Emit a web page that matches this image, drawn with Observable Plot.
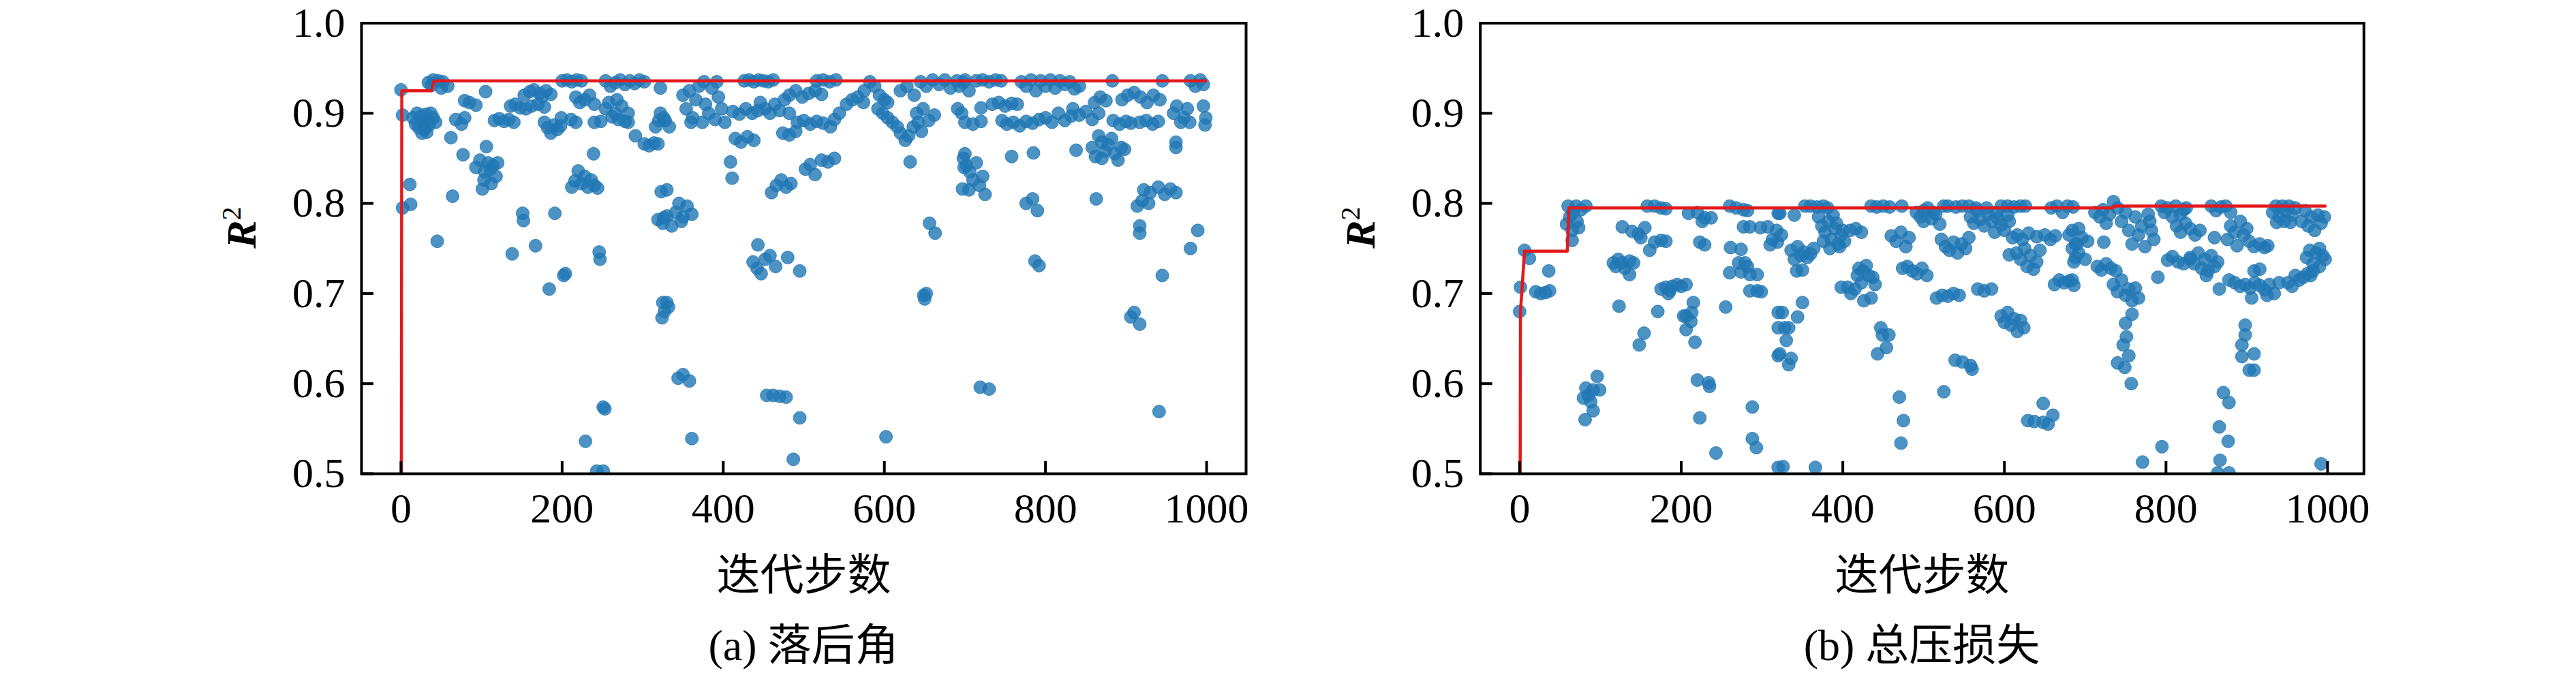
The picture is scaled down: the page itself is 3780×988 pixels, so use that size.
<!DOCTYPE html>
<html><head><meta charset="utf-8">
<script src="https://cdn.jsdelivr.net/npm/d3@7"></script>
<script src="https://cdn.jsdelivr.net/npm/@observablehq/plot@0.6"></script>
<style>
body{margin:0;background:#fff}
#wrap{position:relative;width:3780px;height:988px;background:#fff;overflow:hidden}
.panel{position:absolute;top:0}
.cap{position:absolute;top:900px;height:88px;line-height:96px;text-align:center;font-size:64px;font-family:"Liberation Serif","Noto Sans CJK SC",serif;color:#000;white-space:nowrap}
</style></head>
<body><div id="wrap"></div>
<script>
const xTicks = [0, 200, 400, 600, 800, 1000];
const yTicks = [0.5, 0.6, 0.7, 0.8, 0.9, 1.0];
const xLabel = "迭代步数";
const yLabel = "R2";
const captionA = "(a) 落后角";
const captionB = "(b) 总压损失";

// best-so-far (running max) curves
const bestStepsA = [0, 1, 38, 41, 999];
const bestR2A = [0.2, 0.925, 0.925, 0.936, 0.936];
const bestStepsB = [0, 1, 3, 6, 59, 61, 734, 736, 997];
const bestR2B = [0.2, 0.68, 0.706, 0.747, 0.747, 0.795, 0.795, 0.797, 0.797];

// panel (a): [step, R2]
const pointsA = [
[0,0.926],[2,0.898],[11,0.821],[12,0.799],[2,0.795],[45,0.758],
[34,0.934],[40,0.937],[46,0.936],[52,0.935],[58,0.93],[50,0.928],[38,0.931],
[15,0.895],[18,0.888],[20,0.9],[22,0.884],[25,0.897],[27,0.89],[29,0.882],[31,0.899],[33,0.893],[35,0.887],[37,0.9],[40,0.895],[43,0.89],[26,0.878],[32,0.879],
[62,0.873],[77,0.854],[79,0.914],[85,0.912],[93,0.909],[105,0.924],
[68,0.893],[75,0.888],[79,0.895],[64,0.808],
[93,0.84],[98,0.848],[101,0.816],[104,0.835],[106,0.863],[108,0.845],[111,0.838],[114,0.842],[118,0.83],[120,0.845],[103,0.826],[112,0.822],
[116,0.892],[122,0.894],[128,0.891],[134,0.893],[140,0.89],
[138,0.744],[151,0.789],[152,0.781],[167,0.753],[191,0.789],[184,0.705],[202,0.72],[204,0.722],
[136,0.908],[142,0.91],[148,0.906],[155,0.905],[162,0.908],[170,0.91],[178,0.907],
[153,0.92],[160,0.924],[165,0.926],[172,0.922],[180,0.925],[186,0.921],[175,0.918],
[178,0.89],[182,0.884],[186,0.878],[190,0.887],[194,0.882],[198,0.886],
[200,0.936],[206,0.937],[212,0.935],[218,0.937],[224,0.936],
[199,0.895],[211,0.893],[217,0.89],
[217,0.918],[222,0.912],[228,0.915],[234,0.92],[240,0.91],
[239,0.855],
[212,0.818],[216,0.825],[220,0.836],[224,0.822],[228,0.83],[232,0.818],[236,0.826],[240,0.82],[244,0.817],
[246,0.746],[247,0.738],[251,0.574],[253,0.572],[229,0.536],[243,0.503],[251,0.503],
[240,0.89],[248,0.891],
[254,0.936],[260,0.93],[266,0.934],[272,0.937],[278,0.932],[284,0.936],[290,0.933],[296,0.937],[302,0.935],
[254,0.905],[258,0.912],[262,0.896],[266,0.9],[270,0.893],[274,0.908],[278,0.891],[282,0.9],[268,0.915],
[282,0.89],[291,0.875],[302,0.866],[308,0.864],[314,0.867],[322,0.928],[316,0.885],[320,0.892],[326,0.895],[323,0.813],[319,0.782],[326,0.784],[325,0.69],[324,0.673],[327,0.68],
[322,0.9],[328,0.892],[333,0.885],[319,0.866],[330,0.815],[325,0.778],[330,0.786],[336,0.775],
[341,0.79],[345,0.8],[350,0.785],[355,0.797],[361,0.788],[348,0.78],
[330,0.69],[332,0.685],[344,0.606],[350,0.61],[358,0.603],[361,0.539],
[350,0.92],[354,0.905],[358,0.925],[362,0.895],[366,0.915],[370,0.93],[374,0.89],[378,0.91],[382,0.9],[386,0.928],[390,0.893],[394,0.918],[398,0.905],[402,0.89],[360,0.89],[376,0.935],[392,0.935],
[412,0.902],[420,0.899],[428,0.905],[436,0.9],[443,0.903],
[415,0.872],[422,0.868],[430,0.874],[438,0.87],
[409,0.846],[411,0.828],
[426,0.936],[432,0.937],[438,0.935],[444,0.937],[450,0.936],[456,0.935],[462,0.937],
[446,0.912],[452,0.905],[458,0.9],[464,0.91],[470,0.903],[476,0.915],[482,0.9],
[460,0.812],[466,0.82],[472,0.826],[478,0.818],[484,0.822],
[443,0.754],[437,0.735],[442,0.728],[447,0.722],[452,0.738],[458,0.742],[465,0.73],[480,0.74],[495,0.725],
[454,0.587],[462,0.587],[470,0.586],[478,0.585],[495,0.562],[487,0.516],
[482,0.92],[490,0.925],[498,0.918],[506,0.922],[514,0.925],[522,0.921],
[474,0.878],[482,0.876],[490,0.88],
[492,0.89],[500,0.892],[508,0.888],[516,0.891],[524,0.889],
[516,0.936],[524,0.937],[532,0.935],[540,0.937],
[502,0.838],[508,0.843],[514,0.832],[522,0.848],[530,0.846],[538,0.85],
[533,0.885],[538,0.893],[544,0.9],
[553,0.91],[560,0.915],[567,0.918],[574,0.912],
[575,0.925],[582,0.935],[588,0.93],[594,0.92],[600,0.915],[604,0.912],
[592,0.905],[598,0.9],[604,0.895],[610,0.89],[616,0.885],[620,0.878],[626,0.87],[630,0.875],[636,0.885],[642,0.89],[646,0.88],
[632,0.846],[620,0.925],[628,0.93],[637,0.92],
[640,0.9],[648,0.905],[655,0.892],[662,0.898],
[645,0.935],[652,0.93],[660,0.937],[668,0.932],[675,0.937],[682,0.928],[690,0.936],[698,0.934],
[649,0.698],[650,0.694],[652,0.7],[656,0.778],[663,0.767],[602,0.541],
[697,0.816],[699,0.84],[700,0.855],
[693,0.93],[700,0.937],[705,0.925],[691,0.905],[696,0.9],
[698,0.85],[702,0.842],[706,0.835],[710,0.826],[714,0.845],[718,0.82],[722,0.83],[725,0.81],[705,0.815],
[719,0.596],[730,0.594],
[714,0.936],[722,0.937],[730,0.935],[738,0.937],[745,0.936],
[700,0.89],[710,0.888],[720,0.891],[720,0.906],
[734,0.91],[742,0.912],[750,0.908],[758,0.911],[765,0.91],
[746,0.892],[752,0.888],[760,0.89],[768,0.886],[776,0.891],[784,0.889],[792,0.893],
[758,0.852],[785,0.856],
[770,0.935],[776,0.93],[782,0.937],[788,0.925],[794,0.936],[800,0.93],[806,0.937],[812,0.928],[818,0.936],[824,0.932],[830,0.935],[836,0.927],[842,0.93],
[776,0.8],[784,0.805],[790,0.792],[787,0.736],[792,0.731],
[800,0.895],[808,0.89],[816,0.9],[824,0.892],[832,0.897],
[838,0.859],
[834,0.905],[842,0.898],[850,0.902],[858,0.893],[866,0.9],
[863,0.805],
[858,0.862],[862,0.852],[866,0.875],[870,0.868],[874,0.858],[878,0.865],[882,0.872],[886,0.855],[890,0.848],[894,0.862],[898,0.86],[870,0.85],
[861,0.912],[868,0.918],[875,0.914],[883,0.936],
[884,0.892],[892,0.888],[900,0.891],[906,0.889],
[895,0.915],[902,0.92],[910,0.923],[918,0.918],[926,0.912],[934,0.92],[942,0.915],
[914,0.797],[920,0.803],[928,0.8],[917,0.775],[917,0.767],
[922,0.815],[930,0.812],[940,0.818],[948,0.81],[955,0.816],[962,0.812],
[906,0.674],[910,0.679],[917,0.666],[945,0.72],[941,0.569],
[917,0.89],[925,0.892],[933,0.888],[940,0.891],[945,0.936],
[962,0.862],[962,0.868],
[959,0.9],[963,0.908],[968,0.89],[972,0.895],[976,0.905],[979,0.89],
[980,0.936],[986,0.93],[992,0.937],[996,0.932],
[996,0.908],[999,0.895],[998,0.887],[989,0.77],[980,0.75]
];

// panel (b): [step, R2]
const pointsB = [
[0,0.68],[1,0.707],[6,0.748],[12,0.739],[36,0.725],[20,0.702],[26,0.7],[32,0.701],[37,0.703],
[60,0.797],[70,0.797],[66,0.79],[58,0.777],[65,0.77],[73,0.773],[71,0.78],[65,0.759],[76,0.793],[82,0.797],[62,0.785],
[96,0.608],[82,0.595],[91,0.593],[99,0.593],[79,0.584],[88,0.58],[91,0.57],[81,0.56],[85,0.587],
[123,0.686],[127,0.774],
[116,0.734],[122,0.738],[127,0.734],[136,0.736],[141,0.734],[119,0.73],[130,0.728],[136,0.721],
[139,0.769],[147,0.766],[155,0.773],[161,0.748],[167,0.757],[175,0.759],[181,0.758],[150,0.762],
[148,0.643],[154,0.656],[171,0.68],
[158,0.797],[167,0.797],[175,0.795],[181,0.794],
[175,0.705],[181,0.707],[186,0.703],[189,0.708],[195,0.71],[200,0.708],[206,0.71],[184,0.7],
[215,0.69],[213,0.679],[206,0.675],[212,0.669],[206,0.66],[203,0.675],
[217,0.646],[220,0.604],[234,0.601],[235,0.597],[223,0.562],[243,0.523],
[209,0.789],[220,0.79],[229,0.784],[237,0.784],[226,0.78],
[223,0.757],[229,0.754],[255,0.685],
[260,0.797],[268,0.795],[277,0.793],[282,0.792],
[261,0.751],[274,0.749],[271,0.734],[279,0.734],[260,0.723],[274,0.724],[285,0.721],[294,0.721],[282,0.73],
[277,0.774],[285,0.774],[298,0.773],
[285,0.703],[294,0.703],[299,0.702],
[288,0.574],[288,0.539],[293,0.529],
[307,0.774],[310,0.754],[319,0.757],[320,0.789],[320,0.679],[320,0.662],[320,0.631],[320,0.507],
[313,0.76],[318,0.77],[324,0.765],
[322,0.789],[340,0.787],
[336,0.748],[340,0.738],[344,0.752],[348,0.742],[352,0.746],[356,0.74],[360,0.744],[364,0.75],
[343,0.725],[350,0.726],[350,0.69],
[325,0.679],[344,0.674],[328,0.662],[333,0.662],[330,0.648],[322,0.633],[336,0.628],[333,0.621],
[326,0.508],[366,0.507],
[353,0.797],[360,0.797],[368,0.796],[376,0.797],[381,0.795],
[370,0.785],[374,0.775],[378,0.768],[382,0.78],[386,0.76],[390,0.772],[394,0.755],[398,0.765],[402,0.758],[376,0.758],[384,0.75],[392,0.778],[400,0.77],[388,0.787],[396,0.752],
[409,0.77],[416,0.772],[423,0.768],
[398,0.707],[406,0.707],[415,0.705],[423,0.712],[420,0.728],[429,0.731],[437,0.718],[426,0.692],[435,0.695],[432,0.72],[440,0.71],[418,0.72],[410,0.7],[425,0.725],
[447,0.662],[449,0.654],[457,0.654],[454,0.64],[443,0.633],
[435,0.797],[442,0.796],[450,0.797],[458,0.796],
[460,0.764],[466,0.758],[472,0.768],[478,0.752],[482,0.762],
[473,0.797],[470,0.585],[475,0.559],[472,0.534],
[474,0.728],[480,0.73],[486,0.725],[492,0.722],[498,0.728],[504,0.72],
[491,0.79],[496,0.785],[500,0.78],[505,0.795],[510,0.783],[515,0.788],[520,0.777],[525,0.797],[512,0.79],[500,0.792],
[522,0.76],[527,0.752],[532,0.748],[537,0.757],[542,0.745],[547,0.755],[552,0.75],[556,0.762],
[525,0.591],
[516,0.695],[523,0.698],[530,0.697],[537,0.7],[544,0.698],
[539,0.626],[548,0.624],[558,0.62],[560,0.616],
[530,0.797],[540,0.796],[548,0.797],[556,0.797],[565,0.795],
[558,0.785],[562,0.778],[566,0.792],[570,0.782],[575,0.775],[580,0.788],[585,0.78],[588,0.768],[592,0.783],[596,0.776],[600,0.77],[604,0.787],[606,0.78],[578,0.795],[590,0.79],
[567,0.705],[575,0.703],[584,0.705],
[596,0.797],[604,0.797],[612,0.796],[620,0.797],[626,0.797],
[606,0.743],
[610,0.762],[616,0.765],[622,0.76],[630,0.767],[640,0.763],[650,0.765],[657,0.76],[663,0.764],
[615,0.745],[620,0.738],[625,0.75],[628,0.73],[632,0.742],[636,0.727],[640,0.735],[644,0.748],
[596,0.675],[600,0.668],[604,0.679],[608,0.665],[612,0.672],[616,0.658],[620,0.67],[624,0.662],
[629,0.559],[637,0.558],[648,0.557],[648,0.578],[660,0.565],[654,0.555],
[658,0.795],[665,0.797],[672,0.79],[678,0.797],[685,0.796],
[662,0.71],[668,0.715],[674,0.712],[680,0.714],[686,0.709],
[680,0.765],[684,0.75],[688,0.74],[692,0.772],[690,0.755],
[684,0.77],[688,0.755],[692,0.745],[696,0.762],[700,0.738],[703,0.758],[686,0.735],
[684,0.715],
[712,0.79],[718,0.785],[722,0.793],[726,0.778],[730,0.788],[735,0.802],[740,0.795],[745,0.78],[750,0.79],
[723,0.757],
[715,0.73],[720,0.726],[726,0.733],[732,0.728],[738,0.725],
[735,0.71],[740,0.702],[745,0.715],[750,0.698],[754,0.705],[758,0.692],[762,0.706],[766,0.695],
[758,0.677],[750,0.667],[751,0.652],[747,0.643],[754,0.631],[740,0.623],[749,0.618],[757,0.6],
[754,0.77],[758,0.755],[762,0.785],[766,0.765],[770,0.775],[774,0.752],[778,0.788],[782,0.77],[785,0.76],[780,0.78],
[790,0.718],
[794,0.797],[798,0.79],[802,0.795],[808,0.785],[812,0.797],[818,0.788],[822,0.793],[825,0.795],
[802,0.737],[808,0.741],[815,0.735],[822,0.733],[830,0.738],
[813,0.775],[818,0.768],[824,0.778],[830,0.772],[836,0.765],[842,0.77],
[830,0.74],[835,0.733],[840,0.745],[844,0.728],[848,0.738],[852,0.725],[856,0.742],[860,0.73],[864,0.735],[850,0.72],
[860,0.762],[866,0.705],
[856,0.797],[862,0.792],[868,0.796],[874,0.797],[880,0.79],
[876,0.76],[880,0.775],[885,0.768],[888,0.753],[892,0.78],[896,0.765],[900,0.772],[903,0.758],
[878,0.715],[885,0.712],[892,0.708],[898,0.71],[904,0.706],[910,0.712],[916,0.709],[922,0.704],[928,0.71],[934,0.7],[940,0.712],[925,0.698],
[906,0.695],[909,0.725],[916,0.727],
[898,0.665],[898,0.654],[894,0.643],[909,0.633],[894,0.63],[903,0.615],[909,0.615],
[871,0.59],[878,0.579],[866,0.552],[877,0.536],[867,0.515],[864,0.501],[878,0.501],
[795,0.53],[771,0.513],[992,0.511],
[909,0.752],[916,0.755],[922,0.751],[926,0.753],
[932,0.79],[936,0.797],[940,0.785],[944,0.797],[948,0.792],[952,0.797],[956,0.787],[960,0.795],
[937,0.779],[946,0.78],[954,0.779],
[951,0.712],[956,0.708],[960,0.72],[965,0.715],[970,0.718],[975,0.722],[979,0.72],[982,0.725],
[968,0.78],[972,0.792],[976,0.775],[980,0.785],[984,0.77],[988,0.787],[992,0.778],[996,0.785],
[974,0.74],[978,0.748],[982,0.733],[986,0.745],[990,0.73],[994,0.742],[997,0.738],[990,0.75]
];

const FONT = '"Liberation Serif","Noto Sans CJK SC",serif';
const wrap = document.getElementById("wrap");

function makePanel(cfg) {
  const W = 1560, H = 900;
  const mL = cfg.frameLeft - cfg.left;
  const mR = W - (cfg.frameRight - cfg.left);
  const mT = 33.5, mB = H - 695;
  const data = cfg.points.map(([s, v]) => ({step: s, r2: v}));
  const best = cfg.bestSteps.map((s, i) => ({step: s, r2: cfg.bestR2[i]}));
  const svg = Plot.plot({
    width: W, height: H,
    marginLeft: mL, marginRight: mR, marginTop: mT, marginBottom: mB,
    style: {fontFamily: FONT, fontSize: "62px", color: "black", background: "white", overflow: "visible"},
    x: {domain: cfg.xDomain},
    y: {domain: [0.5, 1.0]},
    marks: [
      Plot.dot(data, {x: "step", y: "r2", r: 9.5, fill: "#1f77b4", fillOpacity: 0.8, stroke: "#1f77b4", strokeOpacity: 0.8, strokeWidth: 1, clip: true}),
      Plot.line(best, {x: "step", y: "r2", stroke: "#e3191c", strokeWidth: 4.5, clip: true}),
      Plot.axisX({ticks: xTicks, tickSize: -18, tickPadding: 45, strokeWidth: 4, label: null, tickFormat: d => String(d)}),
      Plot.axisY({ticks: yTicks, tickSize: -18, tickPadding: 42, strokeWidth: 4, label: null, tickFormat: d3.format(".1f")}),
      Plot.frame({stroke: "black", strokeWidth: 4}),
      Plot.text([xLabel], {text: d => d, frameAnchor: "bottom", dy: 150, fontSize: 64, lineAnchor: "middle"}),
      Plot.text([yLabel], {text: d => d, frameAnchor: "left", dx: -175, rotate: -90, fontSize: 62, lineAnchor: "middle"})
    ]
  });
  const ns = "http://www.w3.org/2000/svg";
  svg.querySelectorAll("text").forEach(t => {
    if (t.textContent === yLabel) {
      t.textContent = "";
      const a = document.createElementNS(ns, "tspan");
      a.textContent = "R"; a.setAttribute("font-style", "italic"); a.setAttribute("font-weight", "bold");
      const b = document.createElementNS(ns, "tspan");
      b.textContent = "2"; b.setAttribute("font-size", "40"); b.setAttribute("dy", "-22");
      t.appendChild(a); t.appendChild(b);
    }
  });
  const div = document.createElement("div");
  div.className = "panel";
  div.style.left = cfg.left + "px";
  div.style.width = W + "px";
  div.style.height = "988px";
  div.appendChild(svg);
  const cap = document.createElement("div");
  cap.className = "cap";
  cap.style.left = mL + "px";
  cap.style.width = (cfg.frameRight - cfg.frameLeft) + "px";
  cap.textContent = cfg.caption;
  div.appendChild(cap);
  wrap.appendChild(div);
}

makePanel({left: 300, frameLeft: 530, frameRight: 1828, xDomain: [-49, 1049], points: pointsA, bestSteps: bestStepsA, bestR2: bestR2A, caption: captionA});
makePanel({left: 1940, frameLeft: 2171.7, frameRight: 3468.3, xDomain: [-48.7, 1045], points: pointsB, bestSteps: bestStepsB, bestR2: bestR2B, caption: captionB});
</script>
</body></html>
